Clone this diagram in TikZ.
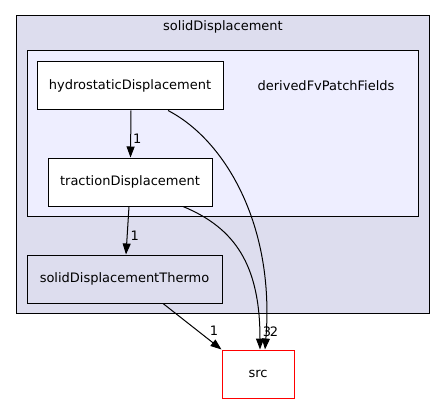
\documentclass[tikz,border=0pt]{standalone}
\usepackage{fontspec}
\setmainfont{DejaVu Sans}
\usetikzlibrary{arrows.meta}
\definecolor{ClusterOuter}{HTML}{DDDDEE}
\definecolor{ClusterInner}{HTML}{EEEEFF}

\begin{document}
\begin{tikzpicture}[x=1pt,y=-1pt,>={Triangle[length=11pt,width=8pt]},line width=1pt,
    every node/.style={font=\fontsize{13}{15}\selectfont},
    dirbox/.style={draw=black,fill=white,minimum height=48pt,inner sep=0pt},
    deplabel/.style={inner sep=0pt}]
      \useasboundingbox (0,0) rectangle (445,404);
      % clusters
      \draw[fill=ClusterOuter] (16,16) rectangle (429,313);
      \node (solidtitle) at (223,27) {solidDisplacement};
      \draw[fill=ClusterInner] (27,51) rectangle (418,216);
      \node (dfpftitle) at (326,86) {derivedFvPatchFields};
      % directories
      \node[dirbox,minimum width=186pt] (hydro) at (130,86) {hydrostaticDisplacement};
      \node[dirbox,minimum width=164pt] (traction) at (130,182) {tractionDisplacement};
      \node[dirbox,fill=ClusterOuter,minimum width=195pt] (thermo) at (124.5,279) {solidDisplacementThermo};
      \node[dirbox,draw=red,minimum width=72pt] (src) at (258,374) {src};
      % dependencies
      \draw[->] ([xshift=1pt]hydro.south) -- ([xshift=0.5pt]traction.north) node[deplabel,pos=0.6,right=2pt] {1};
      \draw[->] ([xshift=-1pt]traction.south) -- ([xshift=1.5pt]thermo.north) node[deplabel,pos=0.6,right=3pt] {1};
      \draw[->] ([xshift=38pt]hydro.south) .. controls (225,140) and (275,225) .. ([xshift=7pt]src.north);
      \draw[->] ([xshift=53pt]traction.south) .. controls (235,228) and (260,265) .. ([xshift=2pt]src.north);
      \draw[->] ([xshift=38.5pt]thermo.south) -- (src.north west);
      \node[deplabel] (lblthree) at (267,332) {3};
      \node[deplabel] (lbltwo) at (274,332) {2};
      \node[deplabel] (lblone) at (214,331) {1};
    \end{tikzpicture}
\end{document}
